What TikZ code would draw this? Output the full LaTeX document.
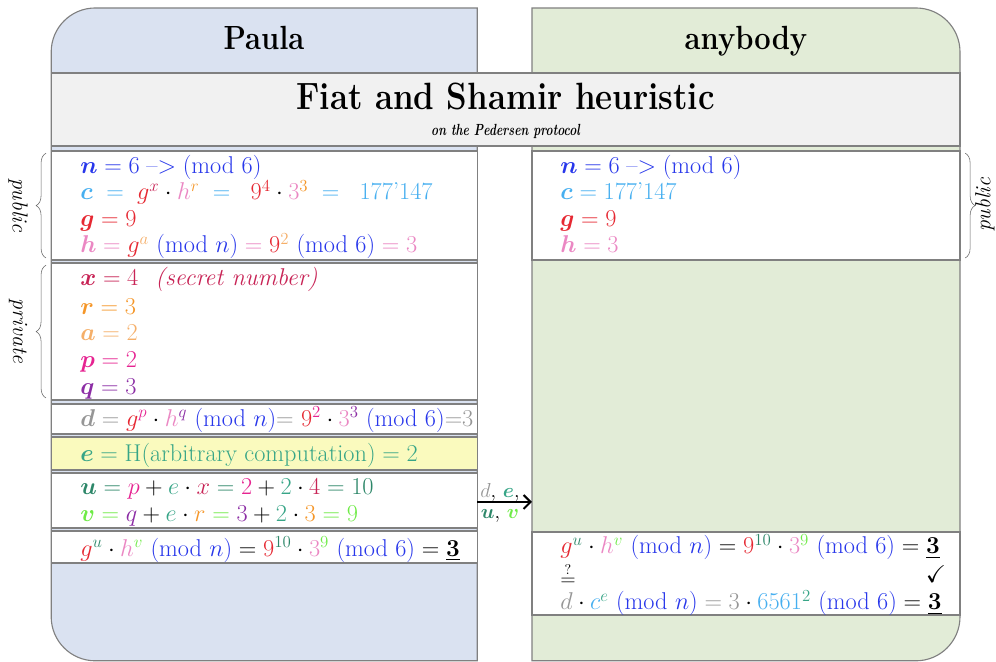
\documentclass[tikz,border=0pt]{standalone}
\usepackage{amsmath}
\usepackage{amssymb}
\usepackage{tikz}
\usetikzlibrary{decorations.pathreplacing,arrows.meta}

\definecolor{paulaBg}{RGB}{218,226,241}
\definecolor{anyBg}{RGB}{226,236,215}
\definecolor{bandBg}{RGB}{241,241,241}
\definecolor{hashBg}{RGB}{250,250,190}
\definecolor{colN}{RGB}{40,55,235}
\definecolor{colC}{RGB}{70,175,240}
\definecolor{colG}{RGB}{230,40,50}
\definecolor{colH}{RGB}{235,135,195}
\definecolor{colX}{RGB}{200,35,85}
\definecolor{colR}{RGB}{245,150,40}
\definecolor{colA}{RGB}{245,175,105}
\definecolor{colP}{RGB}{230,35,145}
\definecolor{colQ}{RGB}{140,45,165}
\definecolor{colD}{RGB}{150,150,150}
\definecolor{colE}{RGB}{55,165,135}
\definecolor{colU}{RGB}{45,135,105}
\definecolor{colV}{RGB}{110,235,70}

\newcommand{\mdl}[1]{\ {\color{colN}(\mathrm{mod}\ #1)}}
\newcommand{\toarr}{\mathrel{\text{--{}>}}}

\begin{document}
\begin{tikzpicture}[
			every node/.style={inner sep=0pt},
			frame/.style={draw=gray, line width=0.8pt},
			txt/.style={anchor=base west, font=\LARGE},
			side/.style={font=\fontsize{15.5}{18}\selectfont\itshape},
			heading/.style={font=\huge\bfseries, anchor=base, transform shape, yscale=1.15}
			]
			\useasboundingbox (0,0) rectangle (24.9,16.55);
			
			% Columns
			\draw[frame, fill=paulaBg] (11.93,0.03) -- (2.38,0.03) arc(270:180:1.1) -- (1.28,15.25) arc(180:90:1.1) -- (11.93,16.35) -- cycle;
			\draw[frame, fill=anyBg] (13.3,0.03) -- (22.9,0.03) arc(-90:0:1.1) -- (24.0,15.25) arc(0:90:1.1) -- (13.3,16.35) -- cycle;
			
			% Column headings
			\node[heading] (paula) at (6.6,15.3) {Paula};
			\node[heading] (anybody) at (18.65,15.3) {anybody};
			
			% Title band
			\draw[frame, fill=bandBg] (1.28,12.9) rectangle (24.0,14.725);
			\node[heading, font=\fontsize{23.5}{28}\selectfont\bfseries] (title) at (12.64,13.8) {Fiat and Shamir heuristic};
			\node[font=\fontsize{8.5}{10}\selectfont\bfseries\itshape, anchor=base, transform shape, yscale=1.35] (subtitle) at (12.64,13.15) {on the Pedersen protocol};
			
			% Boxes of Paula
			\draw[frame, fill=white] (1.28,10.05) rectangle (11.93,12.775);
			\draw[frame, fill=white] (1.28,6.55) rectangle (11.93,9.975);
			\draw[frame, fill=white] (1.28,5.7) rectangle (11.93,6.45);
			\draw[frame, fill=hashBg] (1.28,4.8) rectangle (11.93,5.625);
			\draw[frame, fill=white] (1.28,3.35) rectangle (11.93,4.725);
			\draw[frame, fill=white] (1.28,2.475) rectangle (11.93,3.275);
			
			% Boxes of anybody
			\draw[frame, fill=white] (13.3,10.05) rectangle (24.0,12.775);
			\draw[frame, fill=white] (13.3,1.175) rectangle (24.0,3.25);
			
			% Public values (Paula)
			\node[txt] (pn) at (2.0,12.2) {$\color{colN}\boldsymbol{n} = 6 \toarr (\mathrm{mod}\ 6)$};
			\node[txt] (pc) at (2.0,11.55) {$\color{colC}\boldsymbol{c} \;=\; \color{colG}g^{\color{colX}x} \color{black}\cdot \color{colH}h^{\color{colR}r} \;\color{colC}=\;\; \color{colG}9^{4} \color{black}\cdot \color{colH}3^{\color{colR}3} \;\color{colC}=\;\; 177\text{'}147$};
			\node[txt] (pg) at (2.0,10.875) {$\color{colG}\boldsymbol{g} = 9$};
			\node[txt] (ph) at (2.0,10.225) {$\color{colH}\boldsymbol{h} = \color{colG}g^{\color{colA}a}\mdl{n} \color{colH}= \color{colG}9^{\color{colA}2}\mdl{6} \color{colH}= 3$};
			
			% Private values (Paula)
			\node[txt] (px) at (2.0,9.4) {\color{colX}$\boldsymbol{x} = 4$\hspace{0.7em}\textit{(secret number)}};
			\node[txt] (pr) at (2.0,8.675) {$\color{colR}\boldsymbol{r} = 3$};
			\node[txt] (pa) at (2.0,8.025) {$\color{colA}\boldsymbol{a} = 2$};
			\node[txt] (pp) at (2.0,7.35) {$\color{colP}\boldsymbol{p} = 2$};
			\node[txt] (pq) at (2.0,6.675) {$\color{colQ}\boldsymbol{q} = 3$};
			
			% Commitment, challenge, answers
			\node[txt] (pd) at (2.0,5.89) {$\color{colD}\boldsymbol{d} = \color{colG}g^{\color{colP}p} \color{black}\cdot \color{colH}h^{\color{colQ}q}\mdl{n}\color{colD}{=}\ \color{colG}9^{\color{colP}2} \color{black}\cdot \color{colH}3^{\color{colQ}3}\mdl{6}\color{colD}{=}3$};
			\node[txt] (pe) at (2.0,5.02) {$\color{colE}\boldsymbol{e} = \mathrm{H}(\text{arbitrary computation}) = 2$};
			\node[txt] (pu) at (2.0,4.18) {$\color{colU}\boldsymbol{u} = \color{colP}p \color{black}+ \color{colE}e \color{black}\cdot \color{colX}x \color{colU}= \color{colP}2 \color{black}+ \color{colE}2 \color{black}\cdot \color{colX}4 \color{colU}= 10$};
			\node[txt] (pv) at (2.0,3.52) {$\color{colV}\boldsymbol{v} = \color{colQ}q \color{black}+ \color{colE}e \color{black}\cdot \color{colR}r \color{colV}= \color{colQ}3 \color{black}+ \color{colE}2 \color{black}\cdot \color{colR}3 \color{colV}= 9$};
			\node[txt] (pgu) at (2.0,2.64) {$\color{colG}g^{\color{colU}u} \color{black}\cdot \color{colH}h^{\color{colV}v}\mdl{n} \color{black}= \color{colG}9^{\color{colU}10} \color{black}\cdot \color{colH}3^{\color{colV}9}\mdl{6} \color{black}= \underline{\mathbf{3}}$};
			
			% Public values (anybody)
			\node[txt] (an) at (14.0,12.2) {$\color{colN}\boldsymbol{n} = 6 \toarr (\mathrm{mod}\ 6)$};
			\node[txt] (ac) at (14.0,11.55) {$\color{colC}\boldsymbol{c} = 177\text{'}147$};
			\node[txt] (ag) at (14.0,10.875) {$\color{colG}\boldsymbol{g} = 9$};
			\node[txt] (ah) at (14.0,10.225) {$\color{colH}\boldsymbol{h} = 3$};
			
			% Verification (anybody)
			\node[txt] (agu) at (14.0,2.7) {$\color{colG}g^{\color{colU}u} \color{black}\cdot \color{colH}h^{\color{colV}v}\mdl{n} \color{black}= \color{colG}9^{\color{colU}10} \color{black}\cdot \color{colH}3^{\color{colV}9}\mdl{6} \color{black}= \underline{\mathbf{3}}$};
			\node[anchor=west, font=\Large] (aeq) at (14.0,2.2) {$\stackrel{?}{=}$};
			\node[font=\LARGE] (check) at (23.4,2.2) {$\checkmark$};
			\node[txt] (adc) at (14.0,1.3) {$\color{colD}d \color{black}\cdot \color{colC}c^{\color{colE}e}\mdl{n} \color{colD}= 3 \color{black}\cdot \color{colC}6561^{\color{colE}2}\mdl{6} \color{black}= \underline{\mathbf{3}}$};
			
			% Braces
			\draw[gray!80!black, decorate, decoration={brace, amplitude=7pt}] (1.15,10.1) -- (1.15,12.72);
			\draw[gray!80!black, decorate, decoration={brace, amplitude=7pt}] (1.15,6.6) -- (1.15,9.92);
			\draw[gray!80!black, decorate, decoration={brace, amplitude=7pt}] (24.13,12.72) -- (24.13,10.1);
			\node[side, rotate=-90] (pubL) at (0.45,11.425) {public};
			\node[side, rotate=-90] (privL) at (0.45,8.275) {private};
			\node[side, rotate=90] (pubR) at (24.62,11.425) {public};
			
			% Sending d, e, u, v
			\coordinate (sendL) at (11.93,4.0);
			\coordinate (sendR) at (13.3,4.0);
			\draw[-{Straight Barb[length=5pt]}, line width=1.4pt] (sendL) -- (sendR);
			\node[font=\Large, anchor=base] (sendtop) at (12.5,4.12) {$\color{colD}d$, $\color{colE}\boldsymbol{e}$,};
			\node[font=\Large, anchor=base] (sendbot) at (12.5,3.58) {$\color{colU}\boldsymbol{u}$, $\color{colV}\boldsymbol{v}$};
		\end{tikzpicture}
\end{document}
